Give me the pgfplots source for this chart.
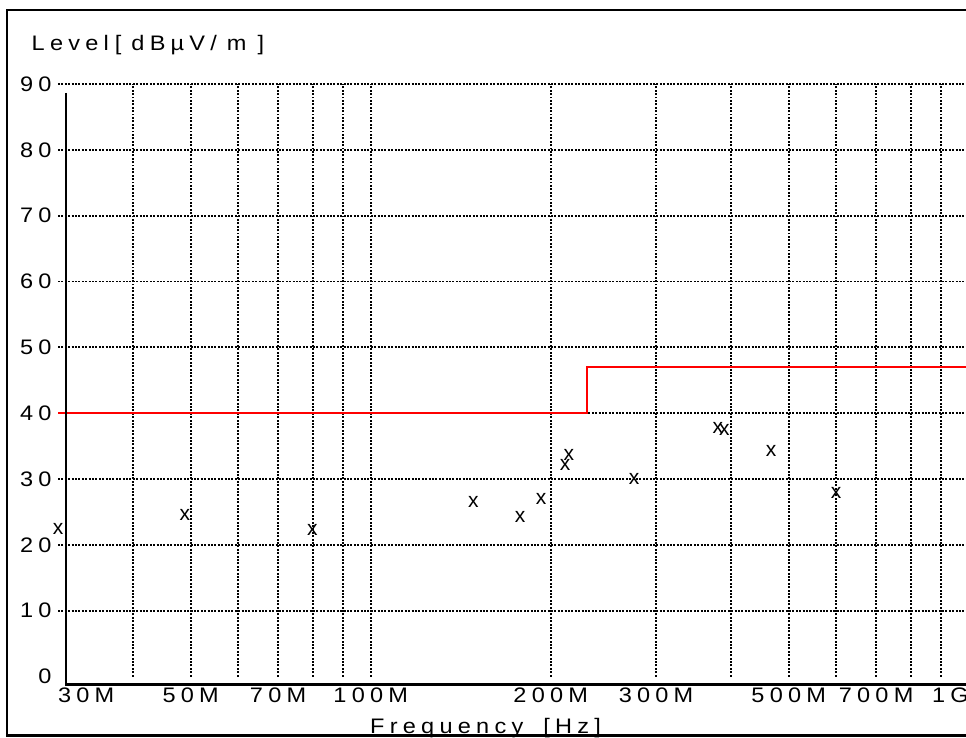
\documentclass[border=0pt]{standalone}
\usepackage{fontspec}
\setmainfont{Liberation Sans}
\newfontfamily\cf[LetterSpace=25,FakeStretch=1.12]{Liberation Sans}
\usepackage{pgfplots}
\pgfplotsset{compat=1.18}
\newcommand\lbl{\cf\fontsize{21}{25}\selectfont}
\begin{document}
\begin{tikzpicture}[x=1pt,y=1pt]
\path[use as bounding box] (0,0) rectangle (966,737);
\clip (0,0) rectangle (966,737);
\begin{axis}[
  at={(58pt,60.5pt)}, anchor=south west,
  scale only axis, width=910.7pt, height=592.5pt,
  xmode=log, xmin=3e7, xmax=1e9, ymin=0, ymax=90,
  axis lines*=left, axis line style={draw=none},
  clip=false,
  major tick length=0pt, minor tick length=0pt,
  xtick={3e7,5e7,7e7,1e8,2e8,3e8,5e8,7e8,1e9},
  xticklabels={\rlap{30M},50M,70M,100M,200M,300M,500M,700M,\llap{1G}},
  ytick={0,10,...,90},
  yticklabels={0,10,20,30,40,50,60,70,80,90},
  tick label style={font=\lbl},
  xticklabel style={anchor=base, yshift=-26.2pt},
  yticklabel style={anchor=east, xshift=-3pt},
  extra x ticks={4e7,5e7,6e7,7e7,8e7,9e7,1e8,2e8,3e8,4e8,5e8,6e8,7e8,8e8,9e8},
  extra x tick labels={},
  extra y ticks={10,20,...,90},
  extra y tick labels={},
  extra tick style={grid=major},
  major grid style={black, line width=1.9pt, dash pattern=on 1.9pt off 1.5pt},
]
\addplot[red, line width=2.3pt, const plot] coordinates {(3e7,40) (2.3e8,47) (1e9,47)};
\addplot[only marks, mark=text, text mark={\fontsize{21}{25}\selectfont x}] coordinates {
(3.0e7,22.4) (4.89e7,24.6) (7.99e7,22.2) (1.485e8,26.5) (1.777e8,24.3) (1.927e8,26.9)
(2.113e8,32.2) (2.144e8,33.6) (2.757e8,30.0) (3.805e8,37.8) (3.902e8,37.5) (4.671e8,34.2)
(6.0e8,27.9)};
\end{axis}
\draw[line width=2.4pt] (66,644) -- (66,52.5) -- (972,52.5);
\node[anchor=base west, inner sep=0pt, font=\lbl] at (31.5,686.7) {Level\kern6pt[\kern10pt dBµV/\kern10pt m\kern11pt]};
\node[anchor=base west, inner sep=0pt, font=\lbl] at (370,3.5) {Frequency\kern20pt[Hz]};
\draw[line width=2.3pt] (972,727) -- (7,727) -- (7,1.5) -- (972,1.5);
\end{tikzpicture}
\end{document}
